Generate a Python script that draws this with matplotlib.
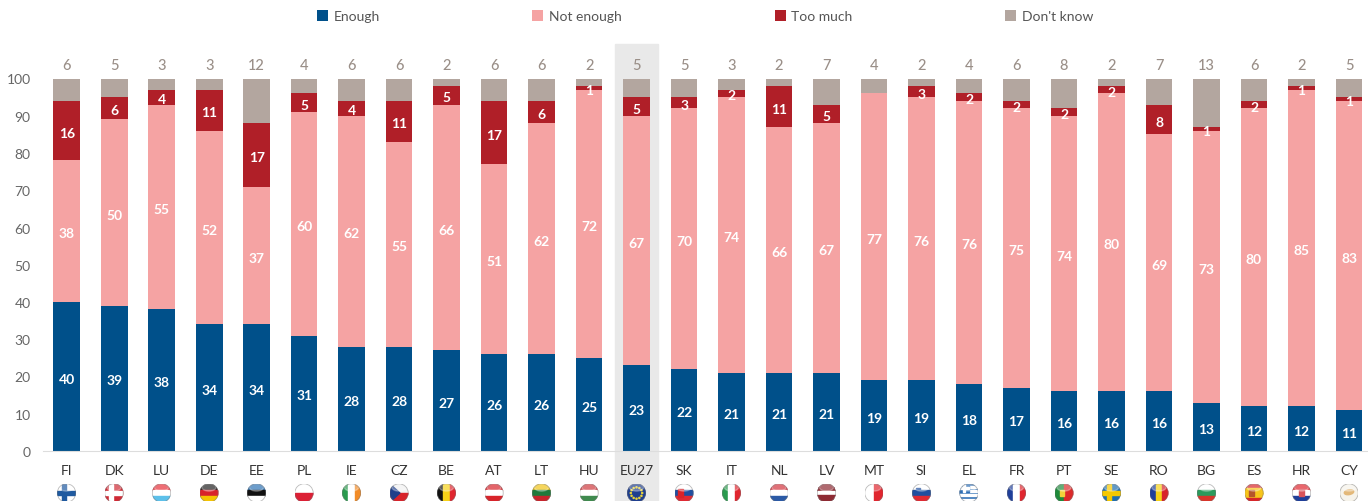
import matplotlib
matplotlib.use('Agg')
import matplotlib.pyplot as plt
from matplotlib.patches import Circle, Ellipse, Polygon, Rectangle
import numpy as np

countries = ['FI', 'DK', 'LU', 'DE', 'EE', 'PL', 'IE', 'CZ', 'BE', 'AT', 'LT', 'HU', 'EU27', 'SK',
             'IT', 'NL', 'LV', 'MT', 'SI', 'EL', 'FR', 'PT', 'SE', 'RO', 'BG', 'ES', 'HR', 'CY']
enough = [40, 39, 38, 34, 34, 31, 28, 28, 27, 26, 26, 25, 23, 22, 21, 21, 21, 19, 19, 18, 17, 16, 16, 16, 13, 12, 12, 11]
not_enough = [38, 50, 55, 52, 37, 60, 62, 55, 66, 51, 62, 72, 67, 70, 74, 66, 67, 77, 76, 76, 75, 74, 80, 69, 73, 80, 85, 83]
too_much = [16, 6, 4, 11, 17, 5, 4, 11, 5, 17, 6, 1, 5, 3, 2, 11, 5, 0, 3, 2, 2, 2, 2, 8, 1, 2, 1, 1]
dont_know = [6, 5, 3, 3, 12, 4, 6, 6, 2, 6, 6, 2, 5, 5, 3, 2, 7, 4, 2, 4, 6, 8, 2, 7, 13, 6, 2, 5]

BLUE = '#00508a'
PINK = '#f5a3a3'
RED = '#b01f28'
TAUPE = '#b3a69f'

# flag colours, top to bottom or left to right
h_flags = {
    'LU': ['#e8303a', '#ffffff', '#5cc0ea'], 'DE': ['#222222', '#d8232a', '#f5c400'],
    'EE': ['#2f74b5', '#111111', '#ffffff'], 'PL': ['#ffffff', '#dc2035'],
    'AT': ['#d8232a', '#ffffff', '#d8232a'], 'LT': ['#f2c416', '#1f7a3c', '#c8252c'],
    'HU': ['#cf3a3f', '#ffffff', '#3f8a4e'], 'SK': ['#ffffff', '#1f4fa0', '#e02a33'],
    'NL': ['#d3353f', '#ffffff', '#2b5aa6'], 'LV': ['#8e2a33', '#8e2a33', '#ffffff', '#8e2a33', '#8e2a33'],
    'SI': ['#ffffff', '#1f4fa0', '#e02a33'], 'BG': ['#ffffff', '#2b9a5c', '#d8352a'],
    'ES': ['#d8262a', '#f7c51b', '#f7c51b', '#d8262a'], 'HR': ['#e0262f', '#ffffff', '#1f3f9a'],
}
v_flags = {
    'IE': ['#2a9a4e', '#ffffff', '#f28c28'], 'BE': ['#111111', '#f6d218', '#e0262f'],
    'IT': ['#2a9a4e', '#ffffff', '#e0262f'], 'FR': ['#1f3f9a', '#ffffff', '#e0262f'],
    'RO': ['#1f3f9a', '#f6d218', '#d8232a'], 'MT': ['#ffffff', '#e0262f'], 'PT': ['#1f8a3c', '#dc2a2a'],
}
nordic_flags = {'FI': ('#ffffff', '#1f5aa0'), 'DK': ('#cf2a35', '#ffffff'), 'SE': ('#1f6fb0', '#f5c800')}
# small crest on some flags: centre x, centre y, width, height, colour
crests = {
    'SK': (-0.35, 0.0, 0.55, 0.8, '#d8232a'), 'SI': (-0.35, 0.35, 0.4, 0.45, '#1f4fa0'),
    'HR': (0.0, 0.05, 0.55, 0.75, '#d8535a'), 'ES': (-0.3, 0.0, 0.5, 0.6, '#b5552a'),
    'PT': (-0.2, 0.0, 0.5, 0.55, '#f2d23a'),
}


def draw_flag(fig, name, cx, cy, r=9.5):
    # small round flag, cx and cy are pixels from the top left of the figure
    w, h = fig.get_size_inches() * fig.dpi
    fa = fig.add_axes([(cx - r) / w, (h - cy - r) / h, 2 * r / w, 2 * r / h])
    fa.set_xlim(-1, 1)
    fa.set_ylim(-1, 1)
    fa.axis('off')
    clip = Circle((0, 0), 1, transform=fa.transData)
    parts = []
    if name in h_flags:
        cols = h_flags[name]
        for k, c in enumerate(cols):
            parts.append(Rectangle((-1, 1 - 2 * (k + 1) / len(cols)), 2, 2 / len(cols), color=c))
    elif name in v_flags:
        cols = v_flags[name]
        for k, c in enumerate(cols):
            parts.append(Rectangle((-1 + 2 * k / len(cols), -1), 2 / len(cols), 2, color=c))
    elif name in nordic_flags:
        bg, fg = nordic_flags[name]
        parts.append(Rectangle((-1, -1), 2, 2, color=bg))
        parts.append(Rectangle((-0.5, -1), 0.42, 2, color=fg))
        parts.append(Rectangle((-1, -0.2), 2, 0.42, color=fg))
    elif name == 'CZ':
        parts.append(Rectangle((-1, 0), 2, 1, color='#f2f2f2'))
        parts.append(Rectangle((-1, -1), 2, 1, color='#d8232a'))
        parts.append(Polygon([(-1, 1), (0.1, 0), (-1, -1)], color='#1f3f8a'))
    elif name == 'EL':
        parts.append(Rectangle((-1, -1), 2, 2, color='#2f6fb5'))
        for yy in [0.55, 0.1, -0.35, -0.8]:
            parts.append(Rectangle((-1, yy), 2, 0.22, color='#ffffff'))
        parts.append(Rectangle((-1, 0.1), 1, 0.9, color='#2f6fb5'))
        parts.append(Rectangle((-0.62, 0.1), 0.22, 0.9, color='#ffffff'))
        parts.append(Rectangle((-1, 0.45), 1, 0.2, color='#ffffff'))
    elif name == 'EU27':
        parts.append(Rectangle((-1, -1), 2, 2, color='#1f3f8f'))
        for a in np.arange(0, 360, 30):
            x = 0.6 * np.cos(np.radians(a))
            y = 0.6 * np.sin(np.radians(a))
            parts.append(Circle((x, y), 0.06, color='#e8d23a'))
    elif name == 'CY':
        parts.append(Rectangle((-1, -1), 2, 2, color='#f6f3ea'))
        parts.append(Ellipse((0, 0.08), 1.0, 0.5, angle=10, color='#e3b878'))
    if name in crests:
        ccx, ccy, cw, ch, cc = crests[name]
        parts.append(Rectangle((ccx - cw / 2, ccy - ch / 2), cw, ch, color=cc))
    for p in parts:
        fa.add_patch(p)
        p.set_clip_path(clip)
    # gloss and rim
    gloss = Ellipse((0, 0.6), 1.5, 0.8, color='white', alpha=0.3)
    fa.add_patch(gloss)
    gloss.set_clip_path(clip)
    shade = Circle((0, 0), 0.97, fill=False, ec='#777777', lw=0.6, alpha=0.5)
    fa.add_patch(shade)


plt.rcParams['font.family'] = ['Lato', 'DejaVu Sans']

fig = plt.figure(figsize=(13.68, 5.02), dpi=100)
ax = fig.add_axes([43 / 1368, 50 / 502, 1325 / 1368, 372.5 / 502])

x = np.arange(len(countries))
e = np.array(enough)
n = np.array(not_enough)
t = np.array(too_much)
d = np.array(dont_know)

# grey band behind EU27
eu = countries.index('EU27')
ax.add_patch(Rectangle((eu - 0.45, -13.4), 0.9, 122.7, color='#e9e9e9', clip_on=False, zorder=0))

w = 0.56
b1 = ax.bar(x, e, w, color=BLUE, label='Enough', zorder=2)
b2 = ax.bar(x, n, w, bottom=e, color=PINK, label='Not enough', zorder=2)
b3 = ax.bar(x, t, w, bottom=e + n, color=RED, label='Too much', zorder=2)
b4 = ax.bar(x, d, w, bottom=e + n + t, color=TAUPE, label="Don't know", zorder=2)

labels = []
labels += ax.bar_label(b1, label_type='center', color='white', fontsize=10, fontweight='bold')
labels += ax.bar_label(b2, label_type='center', color='white', fontsize=10, fontweight='bold')
labels += ax.bar_label(b3, labels=[str(v) if v else '' for v in too_much], label_type='center',
                       color='white', fontsize=10, fontweight='bold')
# text sits a little low in the original
for a in labels:
    a.xyann = (0, -1.5)

for i, v in enumerate(dont_know):
    ax.text(i, 103.6, str(v), ha='center', va='center', color='#9a8f88', fontsize=10.5, fontweight='medium')

ax.set_xlim(-0.5, 27.4)
ax.set_ylim(0, 100)
ax.set_yticks(range(0, 101, 10))
ax.set_xticks(x)
ax.set_xticklabels(countries)
ax.tick_params(axis='y', length=0, pad=9, labelsize=10, labelcolor='#666666')
ax.tick_params(axis='x', length=0, pad=9.5, labelsize=10, labelcolor='#333333')
for s in ['top', 'right', 'left']:
    ax.spines[s].set_visible(False)
ax.spines['bottom'].set_color('#dddddd')
ax.patch.set_alpha(0)

fig.legend(handles=[b1, b2, b3, b4], loc='center', bbox_to_anchor=(705 / 1368, 1 - 17 / 502), ncol=4,
           frameon=False, fontsize=10, labelcolor='#555555', handlelength=0.8, handleheight=0.8,
           handletextpad=0.4, columnspacing=11.0)

for i, name in enumerate(countries):
    draw_flag(fig, name, 66.5 + 47.5 * i, 494)

fig.savefig('out.png', dpi=100)
